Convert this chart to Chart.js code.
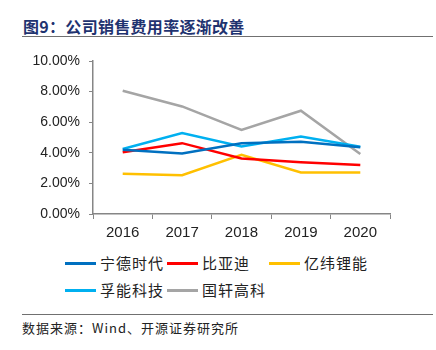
<!DOCTYPE html>
<html>
<head>
<meta charset="utf-8">
<script src="https://cdn.jsdelivr.net/npm/chart.js@4.4.1/dist/chart.umd.min.js"></script>
<style>
  body { margin: 0; width: 436px; height: 350px; background: #fff; position: relative; overflow: hidden; font-family: "Noto Sans CJK SC", sans-serif; }
  #title { position: absolute; left: 23px; top: 14px; font-size: 16px; font-weight: bold; color: #1f3370; white-space: nowrap; letter-spacing: 0.3px; }
  .rule { position: absolute; left: 22px; width: 411px; height: 0; border-top: 1.5px solid #707070; }
  #chart-box { position: absolute; left: 0; top: 40px; width: 436px; height: 210px; }
  #legend { position: absolute; left: 65px; top: 252px; width: 340px; }
  .item { position: absolute; font-size: 15px; letter-spacing: 1px; color: #222; white-space: nowrap; }
  .item span.swatch { display: inline-block; width: 31px; height: 3px; vertical-align: middle; margin-right: 4px; position: relative; top: -1px; }
  #source { position: absolute; left: 22px; top: 318px; font-size: 13px; letter-spacing: 1px; color: #222; white-space: nowrap; }
</style>
</head>
<body>
<div id="title">图9：公司销售费用率逐渐改善</div>
<div class="rule" style="top:36px"></div>
<div id="chart-box"><canvas id="sales-line"></canvas></div>
<div id="legend"></div>
<div class="rule" style="top:314px"></div>
<div id="source">数据来源：Wind、开源证券研究所</div>
<script>
// Years and company names
const years = ["2016", "2017", "2018", "2019", "2020"];
const companies = ["宁德时代", "比亚迪", "亿纬锂能", "孚能科技", "国轩高科"];
const colours = ["#0070C0", "#FF0000", "#FFC000", "#00B0F0", "#A5A5A5"];

// Sales expense ratio (%)
const catl = [4.20, 3.95, 4.63, 4.72, 4.37];
const byd = [4.03, 4.63, 3.63, 3.39, 3.20];
const eve = [2.63, 2.54, 3.87, 2.72, 2.72];
const farasis = [4.25, 5.29, 4.41, 5.07, 4.39];
const gotion = [8.06, 7.03, 5.50, 6.75, 3.92];

const series = [catl, byd, eve, farasis, gotion];

const y_ticks = [0, 2, 4, 6, 8, 10];

const datasets = companies.map((name, i) => ({
  label: name,
  data: series[i],
  borderColor: colours[i],
  backgroundColor: colours[i],
  borderWidth: 2.5,
  pointRadius: 0,
  tension: 0
}));

const axis_colour = "#868686";
const tick_font = { family: "'Liberation Sans', sans-serif", size: 14 };

new Chart(document.getElementById("sales-line"), {
  type: "line",
  data: { labels: years, datasets },
  options: {
    responsive: true,
    maintainAspectRatio: false,
    animation: false,
    layout: { padding: { top: 21, right: 46, left: 0, bottom: 0 } },
    plugins: { legend: { display: false }, tooltip: { enabled: false } },
    scales: {
      x: {
        offset: true,
        grid: { offset: true, drawOnChartArea: false, drawTicks: true, tickLength: 5, color: axis_colour },
        border: { color: axis_colour, width: 1.5 },
        ticks: { color: "#222", font: { family: "'Liberation Sans', sans-serif", size: 15 }, padding: 5, maxRotation: 0 },
        afterFit: scale => { scale.height = 36; }
      },
      y: {
        min: 0,
        max: 10,
        afterBuildTicks: scale => { scale.ticks = y_ticks.map(v => ({ value: v })); },
        grid: { drawOnChartArea: false, drawTicks: true, tickLength: 4, color: axis_colour },
        border: { color: axis_colour, width: 1.5 },
        ticks: {
          color: "#222",
          font: tick_font,
          padding: 9,
          callback: v => v.toFixed(2) + "%"
        },
        afterFit: scale => { scale.width = 93; }
      }
    }
  }
});

// Legend in two rows, three columns
const legend = document.getElementById("legend");
companies.forEach((name, i) => {
  const el = document.createElement("div");
  el.className = "item";
  el.style.left = (i % 3) * 102 + "px";
  el.style.top = Math.floor(i / 3) * 27 + "px";
  el.innerHTML = `<span class="swatch" style="background:${colours[i]}"></span>${name}`;
  legend.appendChild(el);
});
</script>
</body>
</html>
